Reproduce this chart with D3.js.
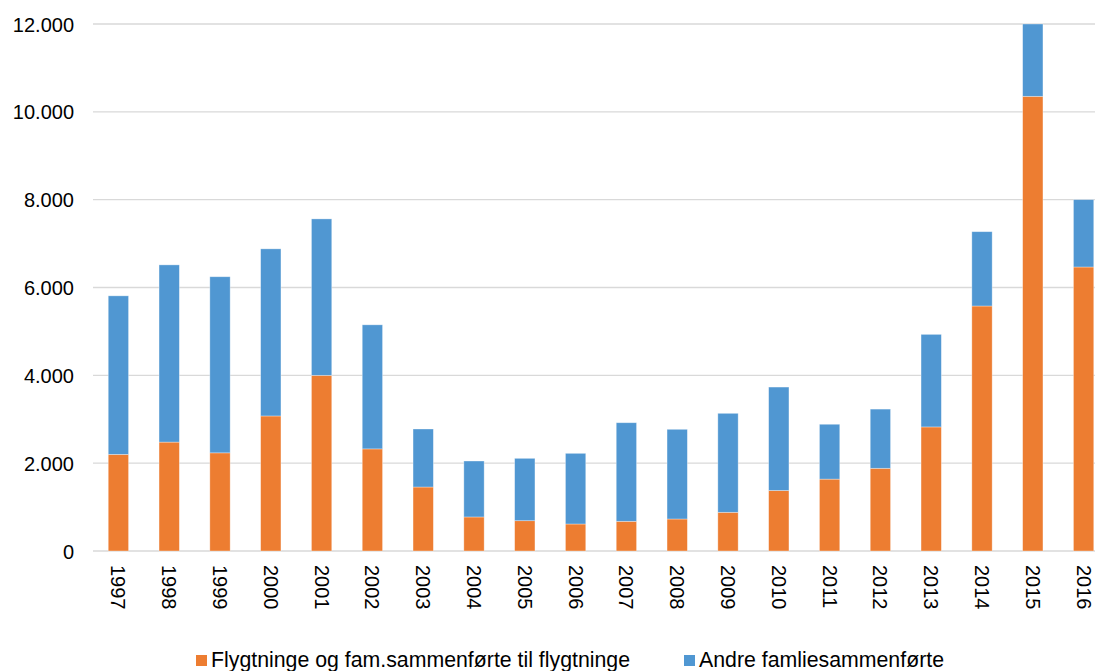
<!DOCTYPE html>
<html>
<head>
<meta charset="utf-8">
<script src="https://cdn.jsdelivr.net/npm/d3@7"></script>
<style>
  body { margin: 0; background: #fff; }
  svg { display: block; font-family: "Liberation Sans", Arial, sans-serif; }
</style>
</head>
<body>
<div id="chart"></div>
<script>
// values
let years = ['1997','1998','1999','2000','2001','2002','2003','2004','2005','2006',
             '2007','2008','2009','2010','2011','2012','2013','2014','2015','2016']
let flyktninger = [2200, 2480, 2235, 3075, 4000, 2325, 1457, 775, 690, 615,
                   676, 729, 881, 1378, 1637, 1883, 2825, 5579, 10353, 6467]
let totals = [5810, 6515, 6245, 6880, 7562, 5150, 2778, 2049, 2110, 2224,
              2921, 2771, 3135, 3733, 2886, 3231, 4933, 7271, 12000, 8000]
let andre = totals.map((t, i) => t - flyktninger[i])
let yTicks = [0, 2000, 4000, 6000, 8000, 10000, 12000]
let seriesNames = ['Flygtninge og fam.sammenførte til flygtninge', 'Andre famliesammenførte']
let colors = ['#ED7D31', '#5097D2']

let width = 1095
let height = 671
let margin = {top: 24, left: 93, bottom: 120}
let plotBottom = 551

let svg = d3.select('#chart').append('svg')
            .attr('width', width)
            .attr('height', height)

let xScale = d3.scaleBand()
               .domain(years)
               .range([margin.left, margin.left + 20 * 50.8])
               .paddingInner(0.6)
               .paddingOuter(0.3)

let yScale = d3.scaleLinear()
               .domain([0, 12000])
               .range([plotBottom, margin.top])

let locale = d3.formatLocale({decimal: ',', thousands: '.', grouping: [3], currency: ['', '']})
let fmt = locale.format(',.0f')

// gridlines
svg.append('g')
   .selectAll('line')
   .data(yTicks)
   .join('line')
   .attr('x1', margin.left)
   .attr('x2', width)
   .attr('y1', d => yScale(d))
   .attr('y2', d => yScale(d))
   .attr('stroke', '#D9D9D9')
   .attr('stroke-width', 1.4)

// y axis labels
let yAxis = svg.append('g')
               .attr('transform', 'translate(74,0)')
               .call(d3.axisLeft(yScale).tickValues(yTicks).tickFormat(fmt).tickSize(0).tickPadding(0))
yAxis.select('.domain').remove()
yAxis.selectAll('text')
     .attr('font-size', 20)
     .attr('fill', '#000')
     .attr('font-family', '"Liberation Sans", Arial, sans-serif')
     .attr('dy', null)
     .attr('dominant-baseline', 'central')

// stacked bars
let table = years.map((y, i) => ({year: y, a: flyktninger[i], b: andre[i]}))
let stacked = d3.stack().keys(['a', 'b'])(table)

svg.append('g')
   .selectAll('g')
   .data(stacked)
   .join('g')
   .attr('fill', (d, i) => colors[i])
   .selectAll('rect')
   .data(d => d)
   .join('rect')
   .attr('x', d => xScale(d.data.year))
   .attr('width', xScale.bandwidth())
   .attr('y', d => yScale(d[1]))
   .attr('height', d => yScale(d[0]) - yScale(d[1]))
   .attr('stroke', 'rgba(255,255,255,0.45)')
   .attr('stroke-width', 0.75)

// x labels, rotated
svg.append('g')
   .selectAll('text')
   .data(years)
   .join('text')
   .attr('transform', d => `translate(${xScale(d) + xScale.bandwidth() / 2},565) rotate(90)`)
   .attr('text-anchor', 'start')
   .attr('dominant-baseline', 'central')
   .attr('font-size', 20)
   .attr('fill', '#000')
   .text(d => d)

// legend
let legendX = [196, 684]
let legend = svg.append('g')
                .selectAll('g')
                .data(seriesNames)
                .join('g')
                .attr('transform', (d, i) => `translate(${legendX[i]},0)`)
legend.append('rect')
      .attr('x', 0)
      .attr('y', 655)
      .attr('width', 11)
      .attr('height', 11)
      .attr('fill', (d, i) => colors[i])
legend.append('text')
      .attr('x', 15)
      .attr('y', 667)
      .attr('font-size', 21.3)
      .attr('fill', '#000')
      .text(d => d)
</script>
</body>
</html>
